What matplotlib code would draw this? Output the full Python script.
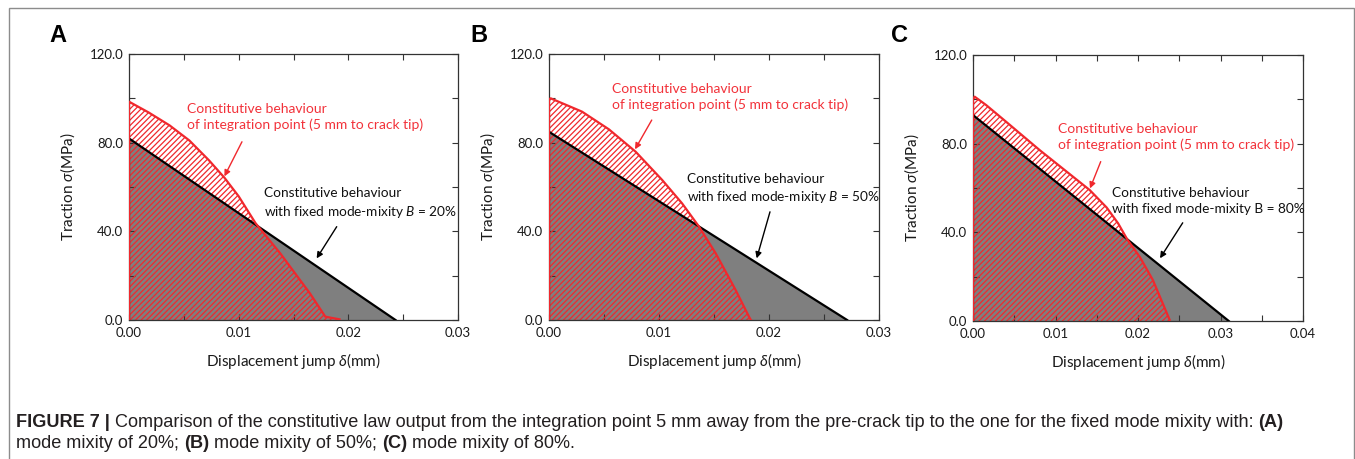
import numpy as np
import matplotlib
matplotlib.use("Agg")
import matplotlib.pyplot as plt
from matplotlib.patches import Rectangle

plt.rcParams['font.family'] = ['Lato', 'DejaVu Sans']
plt.rcParams['mathtext.fontset'] = 'custom'
plt.rcParams['mathtext.rm'] = 'Lato'
plt.rcParams['mathtext.it'] = 'Lato:italic'
plt.rcParams['hatch.linewidth'] = 0.9

# ---- data ----
panel_letters = ['A', 'B', 'C']
mixity = ['20%', '50%', '80%']
x_max = [0.03, 0.03, 0.04]

# fixed mode-mixity bilinear law (peak traction, final jump)
fixed_peak = [81.9, 84.9, 92.9]
fixed_end = [0.0243, 0.0271, 0.0310]

# integration point law (5 mm to crack tip)
ip_x_A = [0.0, 0.0018, 0.0037, 0.0055, 0.0073, 0.0087, 0.0100, 0.01155,
          0.0138, 0.0165, 0.0179, 0.0192]
ip_y_A = [98.5, 93.6, 87.8, 81.0, 72.0, 64.2, 55.8, 43.6,
          30.0, 12.0, 1.5, 0.3]
ip_x_B = [0.0, 0.00015, 0.0030, 0.00545, 0.00788, 0.0103, 0.0121, 0.01364, 0.01515,
          0.01697, 0.01818, 0.01835]
ip_y_B = [99.5, 100.0, 94.0, 86.0, 75.9, 63.1, 52.6, 42.1, 30.1,
          13.5, 1.5, 0.0]
ip_x_C = [0.0, 0.0002, 0.0016, 0.00404, 0.00808, 0.01414, 0.0162, 0.0176, 0.0187,
          0.0202, 0.0218, 0.02384]
ip_y_C = [100.0, 101.2, 97.4, 89.8, 77.1, 59.1, 51.2, 44.0, 36.8,
          29.0, 18.5, 0.5]
ip_x = [ip_x_A, ip_x_B, ip_x_C]
ip_y = [ip_y_A, ip_y_B, ip_y_C]

# ---- layout (pixels of the 1355x459 picture) ----
W, H = 1355, 459
axes_px = [(129, 54, 458, 320), (549, 54, 879, 320), (973, 55, 1303, 321)]
letter_px = [(58, 35), (479, 35), (900, 35)]

# annotation positions in data coords: red text, red arrow, black text, black arrow
red_text = [(0.00529, 91.6), (0.00575, 100.5), (0.01034, 83.1)]
red_arrow = [((0.0103, 80.4), (0.0087, 64.8)),
             ((0.00934, 90.2), (0.00782, 77.0)),
             ((0.01548, 71.9), (0.01418, 59.8))]
blk_text = [(0.0123, 52.6), (0.01257, 59.0), (0.01688, 54.3)]
blk_arrow = [((0.01894, 42.1), (0.01711, 27.8)),
             ((0.02009, 48.8), (0.01888, 27.8)),
             ((0.02542, 44.3), (0.02267, 28.3))]

RED = '#f0282d'
TXT_RED = '#f2323a'

fig = plt.figure(figsize=(W / 100, H / 100), dpi=100)

# outer frame
fig.add_artist(Rectangle((9 / W, -0.2), (1354 - 9) / W, 1.2 - 8 / H,
                         transform=fig.transFigure, fill=False,
                         edgecolor='#8c8c8c', linewidth=1.0))

for i in range(3):
    x0, y0, x1, y1 = axes_px[i]
    ax = fig.add_axes([x0 / W, 1 - y1 / H, (x1 - x0) / W, (y1 - y0) / H])

    # fixed mode-mixity law: grey triangle
    fx = [0.0, 0.0, fixed_end[i]]
    fy = [0.0, fixed_peak[i], 0.0]
    ax.fill(fx, fy, color='#7f7f7f', linewidth=0, zorder=1)

    # integration point law: red hatch
    px = np.array([0.0] + ip_x[i])
    py = np.array([0.0] + ip_y[i])
    ax.fill(np.append(px, px[-1]), np.append(py, 0.0), facecolor='none',
            edgecolor=RED, hatch='//////', linewidth=0, zorder=2)

    ax.plot([0.0, fixed_end[i]], [fixed_peak[i], 0.0], color='black', lw=1.6, zorder=3)
    ax.plot(px, py, color=RED, lw=1.6, zorder=4, solid_joinstyle='round')

    ax.set_xlim(0, x_max[i])
    ax.set_ylim(0, 120)
    ax.set_xticks(np.arange(0, x_max[i] + 1e-9, 0.01))
    ax.set_xticks(np.arange(0.005, x_max[i], 0.01), minor=True)
    ax.set_yticks([0, 40, 80, 120])
    ax.set_yticks([20, 60, 100], minor=True)
    ax.set_xticklabels([f'{v:.2f}' for v in ax.get_xticks()])
    ax.set_yticklabels([f'{v:.1f}' for v in ax.get_yticks()])
    ax.tick_params(which='both', direction='in', top=True, right=True,
                   length=4, width=0.8, color='#333333', labelsize=9.5,
                   labelcolor='#1a1a1a')
    ax.tick_params(axis='x', pad=5)
    ax.tick_params(axis='y', pad=4)
    for s in ax.spines.values():
        s.set_color('#333333')
        s.set_linewidth(0.9)

    ax.set_xlabel(r'Displacement jump $\delta$(mm)', fontsize=11, labelpad=9,
                  color='#1a1a1a')
    ax.set_ylabel(r'Traction $\sigma$(MPa)', fontsize=11, labelpad=9,
                  color='#1a1a1a')

    ax.text(red_text[i][0], red_text[i][1],
            'Constitutive behaviour\nof integration point (5 mm to crack tip)',
            color=TXT_RED, fontsize=10, ha='left', va='center', linespacing=1.35,
            zorder=6)
    ax.annotate('', xy=red_arrow[i][1], xytext=red_arrow[i][0],
                arrowprops=dict(arrowstyle='-|>', color=RED, lw=1.0,
                                mutation_scale=9, shrinkA=0, shrinkB=0), zorder=6)

    if i < 2:
        blabel = 'Constitutive behaviour\nwith fixed mode-mixity $B$ = ' + mixity[i]
    else:
        blabel = 'Constitutive behaviour\nwith fixed mode-mixity B = ' + mixity[i]
    ax.text(blk_text[i][0], blk_text[i][1], blabel, color='#111111', fontsize=9.8,
            ha='left', va='center', linespacing=1.38, zorder=6)
    ax.annotate('', xy=blk_arrow[i][1], xytext=blk_arrow[i][0],
                arrowprops=dict(arrowstyle='-|>', color='black', lw=1.0,
                                mutation_scale=9, shrinkA=0, shrinkB=0), zorder=6)

    fig.text(letter_px[i][0] / W, 1 - letter_px[i][1] / H, panel_letters[i],
             fontsize=17, fontweight='bold', family='Liberation Sans',
             ha='center', va='center', color='black')

# caption with bold pieces, placed one after the other
caption_lines = [
    [('FIGURE 7 |', 'bold'),
     (' Comparison of the constitutive law output from the integration point 5 mm away '
      'from the pre-crack tip to the one for the fixed mode mixity with: ', 'normal'),
     ('(A)', 'bold')],
    [('mode mixity of 20%; ', 'normal'), ('(B)', 'bold'), (' mode mixity of 50%; ', 'normal'),
     ('(C)', 'bold'), (' mode mixity of 80%.', 'normal')],
]
caption_y = [427, 448]
renderer = fig.canvas.get_renderer()
for line, yb in zip(caption_lines, caption_y):
    xpos = 16
    for txt, wt in line:
        t = fig.text(xpos / W, 1 - yb / H, txt, fontsize=13.1, fontweight=wt,
                     family='Liberation Sans', color='#231f20', ha='left', va='baseline')
        bb = t.get_window_extent(renderer)
        xpos = bb.x1

fig.savefig('out.png', dpi=100)
